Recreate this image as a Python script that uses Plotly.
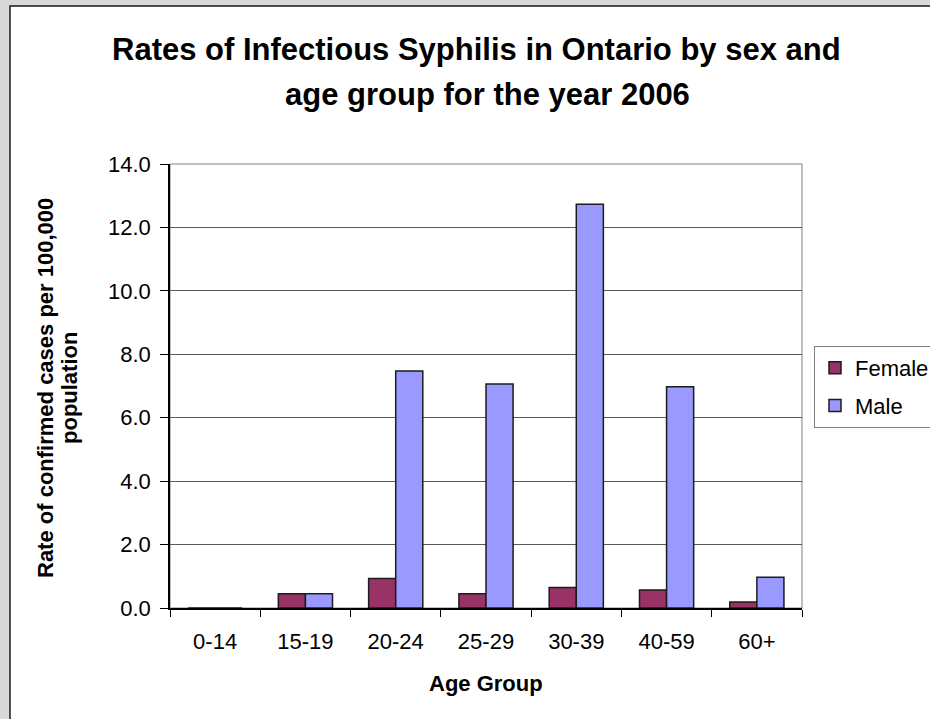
import plotly.graph_objects as go

# Age groups and rates of confirmed cases per 100,000 population, 2006
age_groups = ["0-14", "15-19", "20-24", "25-29", "30-39", "40-59", "60+"]
female_rates = [0.0, 0.45, 0.93, 0.45, 0.65, 0.57, 0.19]
male_rates = [0.0, 0.45, 7.47, 7.06, 12.73, 6.98, 0.97]
y_ticks = [0, 2, 4, 6, 8, 10, 12, 14]

W, H = 930, 719
L, R, T, B = 170, 128, 164, 111
PW, PH = W - L - R, H - T - B


def px_x(px):
    return (px - L) / PW


def px_y(py):
    return (H - B - py) / PH


FONT = '"Liberation Sans", Arial, sans-serif'
outline = dict(color="#1c1c1c", width=1.5)

fig = go.Figure()
fig.add_trace(go.Bar(
    x=age_groups, y=female_rates, name="Female",
    marker=dict(color="#993366", line=outline), legendgroup="f",
))
fig.add_trace(go.Bar(
    x=age_groups, y=male_rates, name="Male",
    marker=dict(color="#9999FF", line=outline), legendgroup="m",
))

shapes = [
    # white chart area with dark frame over the grey window background
    dict(type="rect", xref="paper", yref="paper",
         x0=px_x(10), x1=px_x(960), y0=px_y(760), y1=px_y(6),
         fillcolor="white", line=dict(color="#1a1a1a", width=1.5), layer="below"),
    # grey plot-area frame
    dict(type="rect", xref="paper", yref="paper", x0=0, x1=1, y0=0, y1=1,
         line=dict(color="#808080", width=1), layer="below"),
]

annotations = [
    dict(text="<b>Rates of Infectious Syphilis in Ontario by sex and</b>",
         x=px_x(476), y=px_y(50), xref="paper", yref="paper",
         showarrow=False, font=dict(family=FONT, size=31, color="black"),
         xanchor="center", yanchor="middle"),
    dict(text="<b>age group for the year 2006</b>",
         x=px_x(487), y=px_y(95), xref="paper", yref="paper",
         showarrow=False, font=dict(family=FONT, size=31, color="black"),
         xanchor="center", yanchor="middle"),
    dict(text="<b>Rate of confirmed cases per 100,000</b>",
         x=px_x(45), y=px_y(388), xref="paper", yref="paper", textangle=-90,
         showarrow=False, font=dict(family=FONT, size=22, color="black"),
         xanchor="center", yanchor="middle"),
    dict(text="<b>population</b>",
         x=px_x(69), y=px_y(388), xref="paper", yref="paper", textangle=-90,
         showarrow=False, font=dict(family=FONT, size=22, color="black"),
         xanchor="center", yanchor="middle"),
    dict(text="<b>Age Group</b>",
         x=px_x(486), y=px_y(683), xref="paper", yref="paper",
         showarrow=False, font=dict(family=FONT, size=22, color="black"),
         xanchor="center", yanchor="middle"),
]

fig.update_layout(
    width=W, height=H,
    margin=dict(l=L, r=R, t=T, b=B, autoexpand=False),
    paper_bgcolor="#d9d9d9",
    plot_bgcolor="white",
    font=dict(family=FONT, size=22, color="black"),
    barmode="group", bargap=0.4, bargroupgap=0,
    shapes=shapes, annotations=annotations,
    showlegend=True,
    legend=dict(
        x=px_x(814), y=px_y(346), xanchor="left", yanchor="top",
        bgcolor="white", bordercolor="#808080", borderwidth=1,
        font=dict(family=FONT, size=22, color="black"),
        traceorder="grouped", tracegroupgap=6,
    ),
    xaxis=dict(
        type="category", showline=True, linecolor="black", linewidth=1.5,
        ticks="outside", tickson="boundaries", ticklen=7, tickcolor="black",
        tickfont=dict(family=FONT, size=22), showgrid=False,
        ticklabelstandoff=13,
    ),
    yaxis=dict(
        range=[0, 14], tickvals=y_ticks, tickformat=".1f",
        showline=True, linecolor="black", linewidth=1.5,
        ticks="outside", ticklen=8, tickcolor="black",
        showgrid=True, gridcolor="#5a5a5a", gridwidth=1,
        tickfont=dict(family=FONT, size=22), zeroline=False,
        ticklabelstandoff=5,
    ),
)

fig.write_html("out.html")
